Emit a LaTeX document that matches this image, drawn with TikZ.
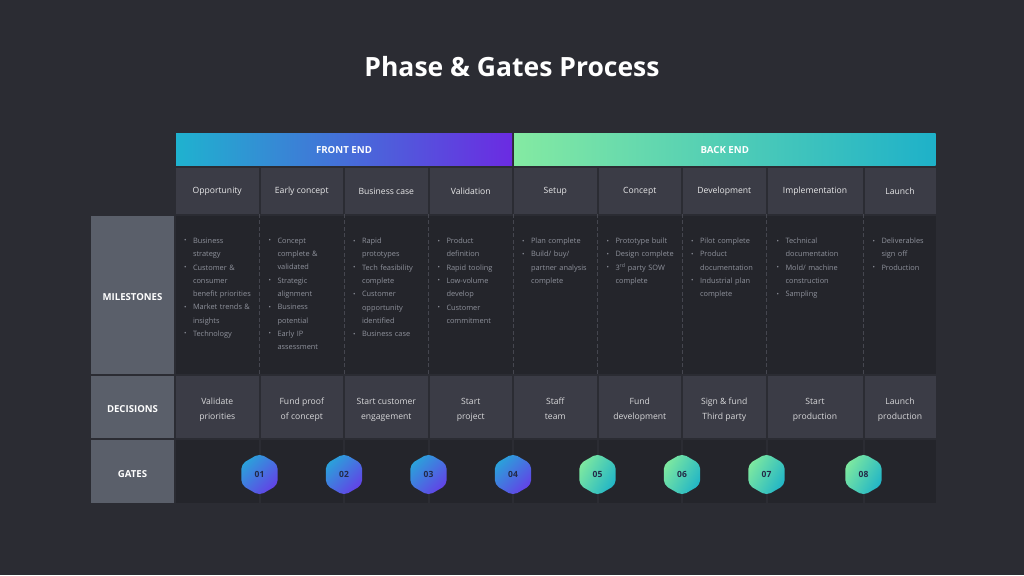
\documentclass[tikz,border=0pt]{standalone}
\usepackage{fontspec}
\setmainfont{Open Sans}
\usetikzlibrary{positioning,shapes.geometric,calc}

\definecolor{pagebg}{HTML}{2B2C33}
\definecolor{cellgray}{HTML}{3B3C46}
\definecolor{bodydark}{HTML}{24252B}
\definecolor{labelgray}{HTML}{5A5F6A}
\definecolor{itemgray}{HTML}{8E919B}
\definecolor{dashgray}{HTML}{45464F}
\definecolor{frontA}{HTML}{1FB2CF}
\definecolor{frontB}{HTML}{6B2BE2}
\definecolor{backA}{HTML}{84EAA2}
\definecolor{backB}{HTML}{1EB1C9}
\definecolor{hexfrontA}{HTML}{2AA2DA}
\definecolor{hexfrontB}{HTML}{6341E6}
\definecolor{hexbackA}{HTML}{7DE8A0}
\definecolor{hexbackB}{HTML}{21B5C7}
\definecolor{hextext}{HTML}{232A48}

\tikzstyle{band}=[inner sep=0pt, outer sep=0pt, minimum height=32pt, font=\fontsize{9.7}{11}\selectfont\bfseries, text=white]
\tikzstyle{phasecell}=[fill=cellgray, inner sep=0pt, outer sep=0pt, minimum width=82.5pt, minimum height=46pt, font=\fontsize{8.6}{10}\selectfont, text=white!88!cellgray]
\tikzstyle{decision}=[fill=cellgray, inner sep=0pt, outer sep=0pt, minimum width=82.5pt, minimum height=62pt, align=center, text height=27pt, text depth=2pt, font=\fontsize{8.6}{15}\selectfont, text=white!80!cellgray]
\tikzstyle{gatecell}=[fill=bodydark, inner sep=0pt, outer sep=0pt, minimum width=82.5pt, minimum height=63pt]
\tikzstyle{rowlabel}=[fill=labelgray, inner sep=0pt, outer sep=0pt, minimum width=83pt, text height=12pt, text depth=0pt, font=\fontsize{9.6}{11}\selectfont\bfseries, text=white]
\tikzstyle{mslist}=[inner sep=0pt, outer sep=0pt, text width=74pt, align=left, font=\fontsize{7.4}{13.3}\selectfont, text=itemgray]
\tikzstyle{gatehex}=[regular polygon, regular polygon sides=6, shape border rotate=30, minimum size=42pt, inner sep=0pt, outer sep=0pt, rounded corners=5pt, font=\fontsize{8.5}{9}\selectfont\bfseries, text=hextext, yshift=-3pt]
\tikzstyle{frontgate}=[gatehex, top color=hexfrontA, bottom color=hexfrontB, shading angle=45]
\tikzstyle{backgate}=[gatehex, top color=hexbackA, bottom color=hexbackB, shading angle=60]
\tikzstyle{colsep}=[draw=dashgray, line width=0.6pt, dash pattern=on 4pt off 2.5pt]

\newcommand{\msitem}[1]{\noindent\hangindent=9pt\hangafter=1\makebox[9pt][l]{\raisebox{0.6pt}{\fontsize{6.5}{6.5}\selectfont\textbullet}}#1\par}

\begin{document}
\begin{tikzpicture}[x=1pt, y=1pt, node distance=2pt]
\useasboundingbox[fill=pagebg] (0,0) rectangle (1024,575);
\node[font=\fontsize{26.5}{30}\selectfont\bfseries, text=white] (title) at (512,508) {Phase \& Gates Process};

% phases
\node[phasecell, anchor=north west] (opp) at (176,407) {Opportunity};
\node[phasecell, right=of opp] (early) {Early concept};
\node[phasecell, right=of early] (bcase) {Business case};
\node[phasecell, right=of bcase] (valid) {Validation};
\node[phasecell, right=of valid] (setup) {Setup};
\node[phasecell, right=of setup] (concept) {Concept};
\node[phasecell, right=of concept] (devel) {Development};
\node[phasecell, right=of devel, minimum width=95pt] (impl) {Implementation};
\node[phasecell, right=of impl, minimum width=71pt] (launch) {Launch};

% front end / back end
\node[band, left color=frontA, right color=frontB, minimum width=336pt, above right=2pt and 0pt of opp.north west] (front) {FRONT END};
\node[band, left color=backA, right color=backB, minimum width=421.5pt, above right=2pt and 0pt of setup.north west] (back) {BACK END};

% milestones
\node[rowlabel, minimum height=158pt, below left=2pt and 2pt of opp.south west] (milestones) {MILESTONES};
\fill[bodydark] (opp.south west |- milestones.north) rectangle (launch.east |- milestones.south);

\node[mslist, below right=24pt and 8pt of opp.south west] (opp-ms) {\msitem{Business\newline strategy}\msitem{Customer \&\newline consumer\newline benefit priorities}\msitem{Market trends \&\newline insights}\msitem{Technology}};
\node[mslist, below right=24pt and 8pt of early.south west] (early-ms) {\msitem{Concept\newline complete \&\newline validated}\msitem{Strategic\newline alignment}\msitem{Business\newline potential}\msitem{Early IP\newline assessment}};
\node[mslist, below right=24pt and 8pt of bcase.south west] (bcase-ms) {\msitem{Rapid\newline prototypes}\msitem{Tech feasibility\newline complete}\msitem{Customer\newline opportunity\newline identified}\msitem{Business case}};
\node[mslist, below right=24pt and 8pt of valid.south west] (valid-ms) {\msitem{Product\newline definition}\msitem{Rapid tooling}\msitem{Low-volume\newline develop}\msitem{Customer\newline commitment}};
\node[mslist, below right=24pt and 8pt of setup.south west] (setup-ms) {\msitem{Plan complete}\msitem{Build/ buy/\newline partner analysis\newline complete}};
\node[mslist, below right=24pt and 8pt of concept.south west] (concept-ms) {\msitem{Prototype built}\msitem{Design complete}\msitem{3\textsuperscript{rd} party SOW\newline complete}};
\node[mslist, below right=24pt and 8pt of devel.south west] (devel-ms) {\msitem{Pilot complete}\msitem{Product\newline documentation}\msitem{Industrial plan\newline complete}};
\node[mslist, below right=24pt and 9pt of impl.south west, text width=85pt] (impl-ms) {\msitem{Technical\newline documentation}\msitem{Mold/ machine\newline construction}\msitem{Sampling}};
\node[mslist, below right=24pt and 8pt of launch.south west, text width=62pt] (launch-ms) {\msitem{Deliverables\newline sign off}\msitem{Production}};

% decisions
\node[decision, below=162pt of opp] (opp-dec) {Validate\\priorities};
\node[decision, below=162pt of early] (early-dec) {Fund proof\\of concept};
\node[decision, below=162pt of bcase] (bcase-dec) {Start customer\\engagement};
\node[decision, below=162pt of valid] (valid-dec) {Start\\project};
\node[decision, below=162pt of setup] (setup-dec) {Staff\\team};
\node[decision, below=162pt of concept] (concept-dec) {Fund\\development};
\node[decision, below=162pt of devel] (devel-dec) {Sign \& fund\\Third party};
\node[decision, below=162pt of impl, minimum width=95pt] (impl-dec) {Start\\production};
\node[decision, below=162pt of launch, minimum width=71pt] (launch-dec) {Launch\\production};
\node[rowlabel, minimum height=62pt, left=of opp-dec] (decisions) {DECISIONS};

% column separators
\draw[colsep] ($(opp.south east)!.5!(early.south west)$) -- ($(opp-dec.north east)!.5!(early-dec.north west)$);
\draw[colsep] ($(early.south east)!.5!(bcase.south west)$) -- ($(early-dec.north east)!.5!(bcase-dec.north west)$);
\draw[colsep] ($(bcase.south east)!.5!(valid.south west)$) -- ($(bcase-dec.north east)!.5!(valid-dec.north west)$);
\draw[colsep] ($(valid.south east)!.5!(setup.south west)$) -- ($(valid-dec.north east)!.5!(setup-dec.north west)$);
\draw[colsep] ($(setup.south east)!.5!(concept.south west)$) -- ($(setup-dec.north east)!.5!(concept-dec.north west)$);
\draw[colsep] ($(concept.south east)!.5!(devel.south west)$) -- ($(concept-dec.north east)!.5!(devel-dec.north west)$);
\draw[colsep] ($(devel.south east)!.5!(impl.south west)$) -- ($(devel-dec.north east)!.5!(impl-dec.north west)$);
\draw[colsep] ($(impl.south east)!.5!(launch.south west)$) -- ($(impl-dec.north east)!.5!(launch-dec.north west)$);

% gates
\node[gatecell, below=of opp-dec] (opp-gate) {};
\node[gatecell, below=of early-dec] (early-gate) {};
\node[gatecell, below=of bcase-dec] (bcase-gate) {};
\node[gatecell, below=of valid-dec] (valid-gate) {};
\node[gatecell, below=of setup-dec] (setup-gate) {};
\node[gatecell, below=of concept-dec] (concept-gate) {};
\node[gatecell, below=of devel-dec] (devel-gate) {};
\node[gatecell, below=of impl-dec, minimum width=95pt] (impl-gate) {};
\node[gatecell, below=of launch-dec, minimum width=71pt] (launch-gate) {};
\node[rowlabel, minimum height=63pt, left=of opp-gate] (gates) {GATES};

\node[frontgate] (g1) at ($(opp-gate.east)!.5!(early-gate.west)$) {01};
\node[frontgate] (g2) at ($(early-gate.east)!.5!(bcase-gate.west)$) {02};
\node[frontgate] (g3) at ($(bcase-gate.east)!.5!(valid-gate.west)$) {03};
\node[frontgate] (g4) at ($(valid-gate.east)!.5!(setup-gate.west)$) {04};
\node[backgate] (g5) at ($(setup-gate.east)!.5!(concept-gate.west)$) {05};
\node[backgate] (g6) at ($(concept-gate.east)!.5!(devel-gate.west)$) {06};
\node[backgate] (g7) at ($(devel-gate.east)!.5!(impl-gate.west)$) {07};
\node[backgate] (g8) at ($(impl-gate.east)!.5!(launch-gate.west)$) {08};
\end{tikzpicture}
\end{document}
